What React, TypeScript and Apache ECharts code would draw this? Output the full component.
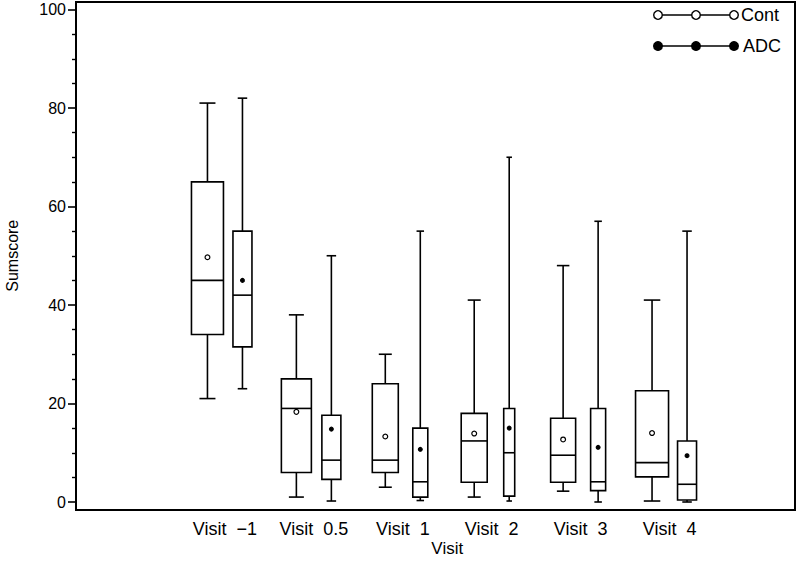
import React, { useEffect, useRef } from "react";
import * as echarts from "echarts";

const visits = ["Visit  \u22121", "Visit  0.5", "Visit  1", "Visit  2", "Visit  3", "Visit  4"];
// [min, Q1, median, Q3, max]
const contBox = [
  [21, 34, 45, 65, 81],
  [1, 6, 19, 25, 38],
  [3, 6, 8.5, 24, 30],
  [1, 4, 12.4, 18, 41],
  [2.2, 4, 9.5, 17, 48],
  [0.2, 5.1, 8, 22.6, 41],
];
const contMean = [49.7, 18.3, 13.3, 13.9, 12.7, 14];
const adcBox = [
  [23, 31.5, 42, 55, 82],
  [0.2, 4.6, 8.5, 17.6, 50],
  [0.3, 1, 4.1, 15, 55],
  [0.2, 1.2, 10, 19, 70],
  [0, 2.3, 4.1, 19, 57],
  [0, 0.4, 3.6, 12.4, 55],
];
const adcMean = [45, 14.8, 10.7, 15, 11.1, 9.4];
const yTicks = [0, 20, 40, 60, 80, 100];

// box widths in pixels (styles, kept separate from data)
const contWidthPx = [32, 30, 26, 26, 25, 33];
const adcWidthPx = [19, 19, 15, 11, 15, 19];

const FONT = "'Liberation Sans', Arial, Helvetica, sans-serif";

function makeRender(offset: number, widths: number[], openMean: boolean) {
  return (params: any, api: any) => {
    const ci = api.value(0);
    const lo = api.value(1), q1 = api.value(2), med = api.value(3), q3 = api.value(4), hi = api.value(5), mean = api.value(6);
    const cx = api.coord([ci, med])[0] + offset;
    const w = widths[params.dataIndex];
    const y = (v: number) => api.coord([ci, v])[1];
    const yLo = y(lo), yQ1 = y(q1), yMed = y(med), yQ3 = y(q3), yHi = y(hi), yMean = y(mean);
    const st = { stroke: "#000", lineWidth: 1.6, fill: "none" };
    const cap = w / 2;
    return {
      type: "group",
      children: [
        { type: "line", shape: { x1: cx, y1: yHi, x2: cx, y2: yQ3 }, style: st },
        { type: "line", shape: { x1: cx, y1: yQ1, x2: cx, y2: yLo }, style: st },
        { type: "line", shape: { x1: cx - cap / 2, y1: yHi, x2: cx + cap / 2, y2: yHi }, style: st },
        { type: "line", shape: { x1: cx - cap / 2, y1: yLo, x2: cx + cap / 2, y2: yLo }, style: st },
        { type: "rect", shape: { x: cx - w / 2, y: yQ3, width: w, height: yQ1 - yQ3 }, style: { ...st, fill: "#fff" } },
        { type: "line", shape: { x1: cx - w / 2, y1: yMed, x2: cx + w / 2, y2: yMed }, style: st },
        {
          type: "circle",
          shape: { cx, cy: yMean, r: openMean ? 2.4 : 1.9 },
          style: { fill: openMean ? "#fff" : "#000", stroke: "#000", lineWidth: 1.2 },
        },
      ],
    };
  };
}

export default function App() {
  const ref = useRef<HTMLDivElement>(null);
  useEffect(() => {
    if (!ref.current) return;
    const chart = echarts.init(ref.current, null, { renderer: "svg" });
    const contData = contBox.map((b, i) => [i, ...b, contMean[i]]);
    const adcData = adcBox.map((b, i) => [i, ...b, adcMean[i]]);
    const legendRow = (y: number, open: boolean, label: string, tx: number) => [
      { type: "line", shape: { x1: 654, y1: y, x2: 736, y2: y }, style: { stroke: "#000", lineWidth: 1.6 } },
      ...[658, 696, 734].map((x) => ({
        type: "circle",
        shape: { cx: x, cy: y, r: 4.3 },
        style: { fill: open ? "#fff" : "#000", stroke: "#000", lineWidth: 1.4 },
      })),
      {
        type: "text",
        x: tx,
        y,
        style: { text: label, fill: "#000", font: `18px ${FONT}`, textVerticalAlign: "middle", textAlign: "left" },
      },
    ];
    chart.setOption({
      animation: false,
      backgroundColor: "#fff",
      grid: [
        { left: 76, right: 4, top: 9.5, bottom: 63, outerBoundsMode: "none" },
        { left: 180.5, right: 85, top: 9.5, bottom: 63, outerBoundsMode: "none" },
      ],
      xAxis: [
        { gridIndex: 0, type: "value", show: false, min: 0, max: 1 },
        {
          gridIndex: 1,
          type: "category",
          data: visits,
          axisLine: { show: false },
          axisTick: { show: false },
          axisLabel: { color: "#000", fontSize: 18, fontFamily: FONT, margin: 18, interval: 0 },
          name: "Visit",
          nameLocation: "middle",
          nameGap: 38,
          nameMoveOverlap: false,
          nameTextStyle: { color: "#000", fontSize: 17, fontFamily: FONT },
        },
      ],
      yAxis: [
        {
          gridIndex: 0,
          type: "value",
          min: 0,
          max: 100,
          interval: 20,
          axisLine: { show: false },
          axisTick: { show: true, inside: false, length: 8, lineStyle: { color: "#000", width: 1.6 } },
          minorTick: { show: true, splitNumber: 4, length: 4, lineStyle: { color: "#000", width: 1.4 } },
          splitLine: { show: false },
          axisLabel: {
            color: "#000",
            fontSize: 16,
            fontFamily: FONT,
            margin: 10,
            formatter: (v: number) => (yTicks.includes(v) ? String(v) : ""),
          },
          name: "Sumscore",
          nameLocation: "middle",
          nameGap: 56,
          nameMoveOverlap: false,
          nameTextStyle: { color: "#000", fontSize: 16, fontFamily: FONT },
        },
        { gridIndex: 1, type: "value", min: 0, max: 100, show: false },
      ],
      series: [
        {
          name: "Cont",
          type: "custom",
          xAxisIndex: 1,
          yAxisIndex: 1,
          renderItem: makeRender(-17.5, contWidthPx, true),
          encode: { x: 0, y: [1, 2, 3, 4, 5] },
          data: contData,
          clip: false,
        },
        {
          name: "ADC",
          type: "custom",
          xAxisIndex: 1,
          yAxisIndex: 1,
          renderItem: makeRender(17.5, adcWidthPx, false),
          encode: { x: 0, y: [1, 2, 3, 4, 5] },
          data: adcData,
          clip: false,
        },
      ],
      graphic: [
        {
          type: "rect",
          shape: { x: 76, y: 2, width: 719, height: 508 },
          style: { fill: "none", stroke: "#000", lineWidth: 2 },
          silent: true,
          z: 10,
        },
        ...legendRow(15, true, "Cont", 741),
        ...legendRow(46, false, "ADC", 743),
      ],
    });
    return () => chart.dispose();
  }, []);
  return <div ref={ref} style={{ position: "fixed", left: 0, top: 0, width: 799, height: 565 }} />;
}
